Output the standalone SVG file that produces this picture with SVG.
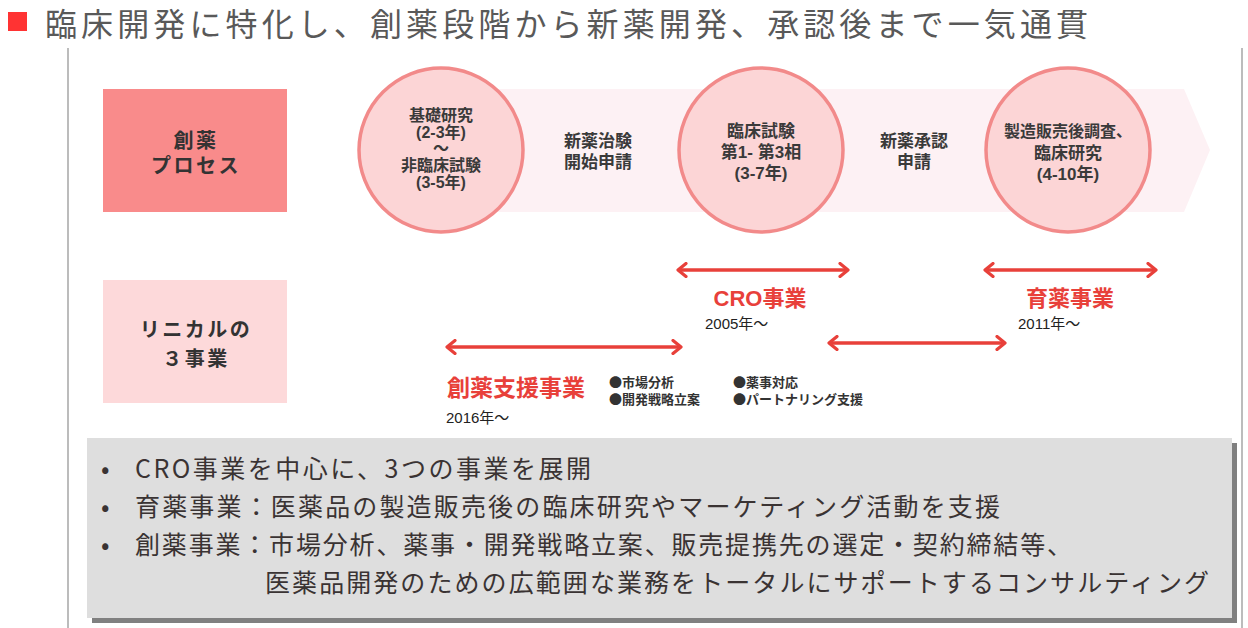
<svg xmlns="http://www.w3.org/2000/svg" width="1248" height="628" viewBox="0 0 1248 628">
<style>
  text{font-family:"Liberation Sans","Noto Sans CJK JP",sans-serif;}
  .title{font-size:32px;fill:#595959;font-family:"Noto Sans CJK JP",sans-serif;}
  .lbl{font-size:20px;font-weight:bold;fill:#333;text-anchor:middle;letter-spacing:2.5px;}
  .ct{font-size:17px;font-weight:bold;fill:#3a3a3a;text-anchor:middle;}
  .red{font-size:22px;font-weight:bold;fill:#e8403a;}
  .yr{font-size:15px;fill:#222;}
  .bl{font-size:13px;font-weight:bold;fill:#333;font-family:"Noto Sans CJK JP",sans-serif;}
  .bt{font-size:25px;fill:#3a3333;font-family:"Noto Sans CJK JP",sans-serif;}
  .circ{fill:#fcd5d6;stroke:#f28a8a;stroke-width:3.5;}
  .arr{stroke:#e8403a;stroke-width:3.5;fill:none;marker-start:url(#ah);marker-end:url(#ah);}
  .vl{stroke:#a6a6a6;stroke-width:1.5;}
</style>
<defs>
  <marker id="ah" markerUnits="userSpaceOnUse" viewBox="0 0 14 16" markerWidth="14" markerHeight="16" refX="11.5" refY="8" orient="auto-start-reverse">
    <path d="M3.5,1.5 L11.5,8 L3.5,14.5" fill="none" stroke="#e8403a" stroke-width="3.2" stroke-linecap="round" stroke-linejoin="round"/>
  </marker>
</defs>
<rect width="1248" height="628" fill="#fff"/>

<g id="title">
  <rect x="8" y="12" width="19" height="19" fill="#ff3333"/>
  <text class="title" x="45" y="36" textLength="1043" lengthAdjust="spacing">臨床開発に特化し、創薬段階から新薬開発、承認後まで一気通貫</text>
</g>

<g id="frame">
  <line class="vl" x1="68" y1="48" x2="68" y2="628"/>
  <line class="vl" x1="1242" y1="48" x2="1242" y2="628"/>
</g>

<g id="band">
  <polygon points="440,89 1184,89 1210,150 1184,212 440,212" fill="#fdf1f4"/>
</g>

<g id="process-label">
  <rect x="103" y="89" width="184" height="123" fill="#f98b8b"/>
  <text class="lbl" x="196" y="148">創薬</text>
  <text class="lbl" x="196" y="173">プロセス</text>
</g>

<g id="stage1">
  <circle class="circ" cx="441" cy="150" r="82"/>
  <text class="ct" x="441" y="121" style="font-size:16px">基礎研究</text>
  <text class="ct" x="441" y="138" style="font-size:16px">(2-3年)</text>
  <text class="ct" x="441" y="154" style="font-size:16px">～</text>
  <text class="ct" x="441" y="171" style="font-size:16px">非臨床試験</text>
  <text class="ct" x="441" y="188" style="font-size:16px">(3-5年)</text>
</g>

<g id="ind">
  <text class="ct" x="598" y="147">新薬治験</text>
  <text class="ct" x="598" y="168">開始申請</text>
</g>

<g id="stage2">
  <circle class="circ" cx="761" cy="150" r="82"/>
  <text class="ct" x="761" y="137">臨床試験</text>
  <text class="ct" x="761" y="158">第1- 第3相</text>
  <text class="ct" x="761" y="179">(3-7年)</text>
</g>

<g id="nda">
  <text class="ct" x="914" y="147">新薬承認</text>
  <text class="ct" x="914" y="168">申請</text>
</g>

<g id="stage3">
  <circle class="circ" cx="1068" cy="150" r="82"/>
  <text class="ct" x="1068" y="137" style="font-size:16px">製造販売後調査、</text>
  <text class="ct" x="1068" y="159">臨床研究</text>
  <text class="ct" x="1068" y="180">(4-10年)</text>
</g>

<g id="business-label">
  <rect x="103" y="280" width="184" height="123" fill="#fdd9da"/>
  <text class="lbl" x="196" y="337">リニカルの</text>
  <text class="lbl" x="196" y="366">３事業</text>
</g>

<g id="connectors">
  <line class="arr" x1="678" y1="270" x2="848" y2="270"/>
  <line class="arr" x1="985" y1="270" x2="1156" y2="270"/>
  <line class="arr" x1="447" y1="347" x2="681" y2="347"/>
  <line class="arr" x1="829" y1="343" x2="1005" y2="343"/>
</g>

<g id="cro">
  <text class="red" x="760" y="306" text-anchor="middle">CRO事業</text>
  <text class="yr" x="705" y="329">2005年～</text>
</g>

<g id="ikuyaku">
  <text class="red" x="1070" y="306" text-anchor="middle">育薬事業</text>
  <text class="yr" x="1018" y="329">2011年～</text>
</g>

<g id="sou">
  <text class="red" x="447" y="396" style="font-size:23px">創薬支援事業</text>
  <text class="yr" x="446" y="423">2016年～</text>
  <text class="bl" x="609" y="387">●市場分析</text>
  <text class="bl" x="609" y="404">●開発戦略立案</text>
  <text class="bl" x="733" y="387">●薬事対応</text>
  <text class="bl" x="733" y="404">●パートナリング支援</text>
</g>

<g id="summary">
  <rect x="92" y="443" width="1145" height="180" fill="#808080"/>
  <rect x="87" y="438" width="1145" height="180" fill="#dedede"/>
  <text class="bt" x="101" y="478">•</text>
  <text class="bt" x="135" y="478" textLength="456" lengthAdjust="spacing">CRO事業を中心に、3つの事業を展開</text>
  <text class="bt" x="101" y="516">•</text>
  <text class="bt" x="135" y="516" textLength="865" lengthAdjust="spacing">育薬事業：医薬品の製造販売後の臨床研究やマーケティング活動を支援</text>
  <text class="bt" x="101" y="554">•</text>
  <text class="bt" x="135" y="554" textLength="937" lengthAdjust="spacing">創薬事業：市場分析、薬事・開発戦略立案、販売提携先の選定・契約締結等、</text>
  <text class="bt" x="265" y="592" textLength="944" lengthAdjust="spacing">医薬品開発のための広範囲な業務をトータルにサポートするコンサルティング</text>
</g>
</svg>
